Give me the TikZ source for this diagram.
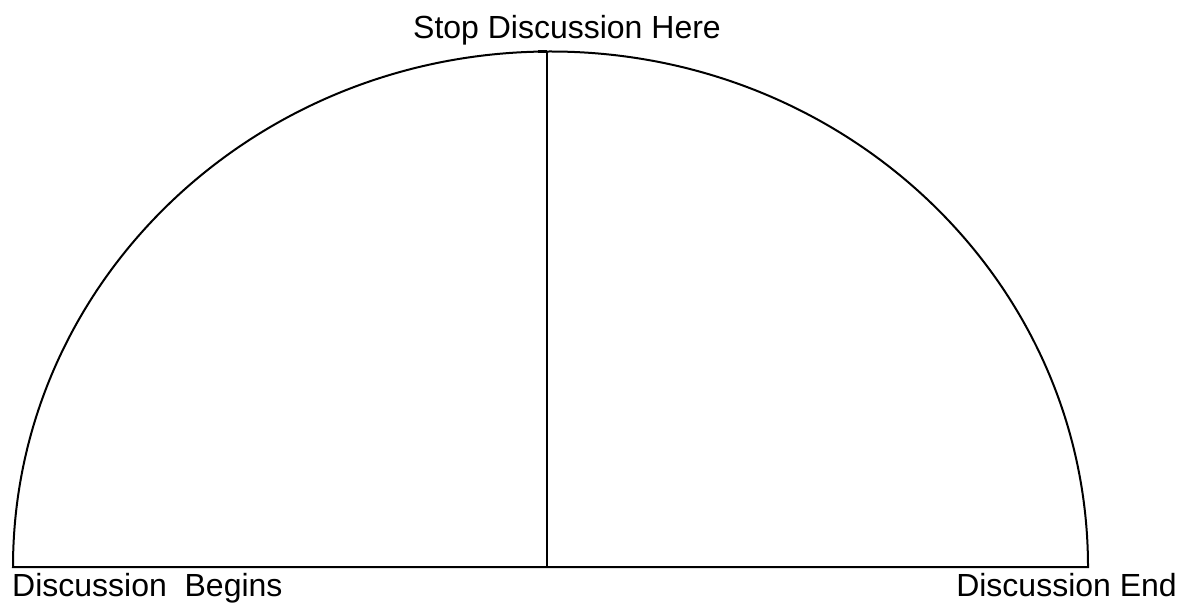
\documentclass[tikz,border=0pt]{standalone}
\usepackage{fontspec}
\setmainfont{Liberation Sans}
\usetikzlibrary{positioning}

\begin{document}
\begin{tikzpicture}[x=1pt, y=1pt,
    label/.style={inner sep=0pt, font=\fontsize{32}{38}\selectfont},
    line/.style={line width=2pt, line cap=butt}]
\useasboundingbox (0,0) rectangle (1178,603);
\coordinate (left) at (13,36);
\coordinate (right) at (1088,36);
\coordinate (bottom) at (546.5,36);
\coordinate (top) at (546.5,551.5);
\coordinate (tick) at (538,551.5);
\draw [line] (left) arc[start angle=180, end angle=0, x radius=537.5, y radius=515.5] -- cycle;
\draw [line] (bottom) -- (top);
\draw [line width=3pt] (tick) -- (top);
\node (stop) [label, anchor=base] at (567,564) {Stop Discussion Here};
\node (begins) [label, anchor=base west] at (12,7) {Discussion\ \ Begins};
\node (end) [label, anchor=base east] at (1177,7) {Discussion End};
\end{tikzpicture}
\end{document}
